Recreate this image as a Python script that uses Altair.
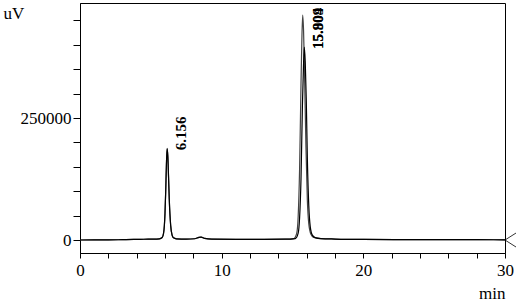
import altair as alt
import pandas as pd

# Trace A (taller second peak)
time_a = [0, 1, 2, 3, 3.8, 4.5, 5.2, 5.6, 5.8, 5.9, 6.0, 6.05, 6.1, 6.15, 6.2, 6.25, 6.3, 6.4, 6.5, 6.6,
          6.8, 7.5, 8.1, 8.4, 8.55, 8.8, 9.3, 11, 13, 14.5, 15.1, 15.3, 15.4, 15.5, 15.6, 15.66, 15.72,
          15.78, 15.85, 15.95, 16.05, 16.15, 16.3, 16.5, 17, 18, 20, 25, 28, 30]
signal_a = [0, 100, 300, 700, 1200, 1600, 1800, 2500, 5000, 14000, 55000, 100000, 155000, 188000, 172000,
            130000, 85000, 30000, 10000, 4500, 2500, 1800, 2600, 5500, 6000, 3200, 1800, 1500, 1500, 1800,
            3000, 14000, 48000, 145000, 320000, 410000, 461000, 430000, 340000, 190000, 80000, 33000,
            12000, 5500, 3000, 2000, 1200, 800, 700, 300]

# Trace B (shorter second peak)
time_b = [0, 1, 2, 3, 3.8, 4.5, 5.2, 5.6, 5.8, 5.9, 6.0, 6.05, 6.1, 6.15, 6.2, 6.25, 6.3, 6.4, 6.5, 6.6,
          6.8, 7.5, 8.1, 8.4, 8.55, 8.8, 9.3, 11, 13, 14.5, 15.2, 15.4, 15.5, 15.6, 15.7, 15.77, 15.83,
          15.9, 15.97, 16.05, 16.15, 16.25, 16.4, 16.6, 17, 18, 20, 25, 28, 30]
signal_b = [0, 100, 300, 700, 1200, 1600, 1800, 2500, 5000, 14000, 55000, 100000, 155000, 187000, 171000,
            129000, 84000, 30000, 10000, 4500, 2500, 1800, 2600, 5500, 6000, 3200, 1800, 1500, 1500, 1800,
            3000, 14000, 45000, 125000, 275000, 350000, 395500, 365000, 290000, 165000, 70000, 28000,
            10000, 5000, 3000, 2000, 1200, 800, 700, 300]

# Peak labels
peak_times = [6.15, 15.83, 15.83]
peak_heights = [188000, 395500, 395500]
peak_labels = ["6.156", "15.804", "15.909"]

y_ticks = [0, 50000, 100000, 150000, 200000, 250000, 300000, 350000, 400000, 450000]
x_ticks = list(range(0, 31, 2))

df = pd.concat([
    pd.DataFrame({"t": time_a, "v": signal_a, "trace": "A"}),
    pd.DataFrame({"t": time_b, "v": signal_b, "trace": "B"}),
])
labels_df = pd.DataFrame({"t": peak_times, "v": peak_heights, "label": peak_labels})
marker_df = pd.DataFrame({"t": [30], "v": [0]})

FONT = "Liberation Serif"
common = dict(labelFont=FONT, labelFontSize=17, labelColor="#000", titleFont=FONT, titleFontSize=17,
              titleColor="#000", titleFontWeight="normal", domainColor="#000", tickColor="#000",
              grid=False, labelFlush=False, labelOverlap=False, labelBound=False)

x_scale = alt.Scale(domain=[0, 30], nice=False, zero=False)
y_scale = alt.Scale(domain=[-26600, 485700], nice=False, zero=False)

lines = alt.Chart(df).mark_line(strokeWidth=1.2, interpolate="monotone").encode(
    x=alt.X("t:Q", scale=x_scale,
            axis=alt.Axis(values=x_ticks, tickCount=40, title="min", tickSize=5, labelPadding=4,
                          labelExpr="datum.value % 10 == 0 ? datum.label : ''",
                          titleAnchor="end", titleAlign="right", titleX=425, titleY=45,
                          titleBaseline="alphabetic", **common)),
    y=alt.Y("v:Q", scale=y_scale,
            axis=alt.Axis(values=y_ticks, tickCount=40, title="uV", tickSize=7, labelPadding=2, format="d",
                          labelExpr="datum.value == 0 || datum.value == 250000 ? datum.label : ''",
                          titleAngle=0, titleAlign="left", titleX=-77, titleY=15,
                          titleBaseline="alphabetic", **common)),
    color=alt.Color("trace:N", scale=alt.Scale(domain=["A", "B"], range=["#444444", "#000000"]),
                    legend=None),
    detail="trace:N",
)

texts = alt.Chart(labels_df).mark_text(angle=270, align="left", baseline="middle", dx=-2, dy=14,
                                       font=FONT, fontSize=15, fontWeight="bold", color="#000").encode(
    x=alt.X("t:Q", scale=x_scale),
    y=alt.Y("v:Q", scale=y_scale),
    text="label:N",
)

marker = alt.Chart(marker_df).mark_point(shape="M2,-1.27L0,0L2,1.27", size=121, filled=False,
                                         stroke="#000", strokeWidth=0.8, opacity=1).encode(
    x=alt.X("t:Q", scale=x_scale),
    y=alt.Y("v:Q", scale=y_scale),
)

chart = alt.layer(lines, texts, marker).properties(
    width=425, height=250,
    autosize=alt.AutoSizeParams(type="none"),
    padding={"left": 80, "top": 3, "right": 11, "bottom": 51},
    background="white",
).configure_view(stroke="#000", strokeWidth=1)

chart.save("out.html", embed_options={"renderer": "svg", "actions": False})
